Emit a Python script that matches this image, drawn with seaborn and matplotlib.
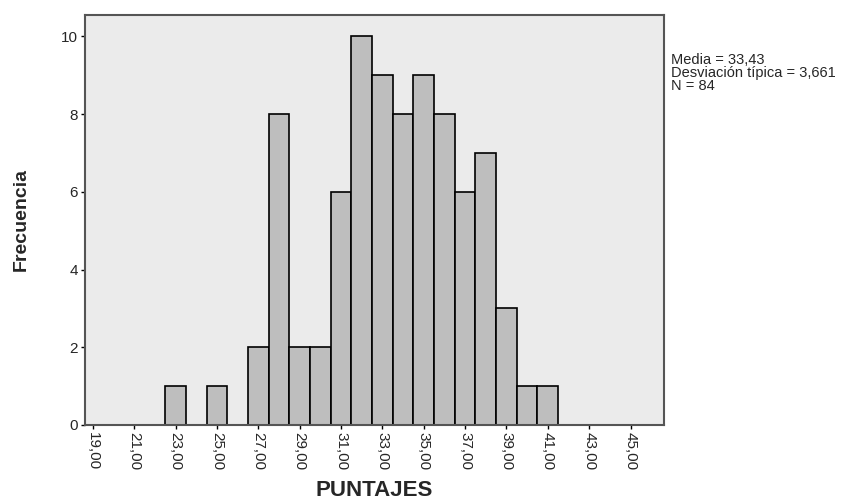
import pandas as pd
import seaborn as sns
import matplotlib.pyplot as plt

# Scores and their frequencies
puntajes = [23, 25, 27, 28, 29, 30, 31, 32, 33, 34, 35, 36, 37, 38, 39, 40, 41]
frecuencias = [1, 1, 2, 8, 2, 2, 6, 10, 9, 8, 9, 8, 6, 7, 3, 1, 1]
x_ticks = [19, 21, 23, 25, 27, 29, 31, 33, 35, 37, 39, 41, 43, 45]
y_ticks = [0, 2, 4, 6, 8, 10]
stats_text = "Media = 33,43\nDesviación típica = 3,661\nN = 84"

df = pd.DataFrame({'PUNTAJES': puntajes, 'freq': frecuencias})

sns.set_style('white')
plt.rcParams['font.family'] = ['Liberation Sans', 'DejaVu Sans']

fig = plt.figure(figsize=(8.63, 5.04), dpi=100)
ax = fig.add_axes([0.098, 0.157, 0.671, 0.813])
ax.set_facecolor('#ebebeb')

sns.histplot(data=df, x='PUNTAJES', weights='freq', discrete=True,
             color='#bebebe', edgecolor='black', linewidth=1.2, alpha=1, ax=ax)

ax.set_xlim(18.6, 46.6)
ax.set_ylim(0, 10.55)
ax.set_xticks(x_ticks)
ax.set_xticklabels([f"{t},00" for t in x_ticks], rotation=270, fontsize=11)
ax.set_yticks(y_ticks)
ax.set_yticklabels([str(t) for t in y_ticks], fontsize=11)
ax.tick_params(axis='both', bottom=True, left=True, direction='out',
               length=3, width=1, color='black', pad=2)

for s in ax.spines.values():
    s.set_color('#555555')
    s.set_linewidth(1.5)

ax.set_xlabel('PUNTAJES', fontsize=16, fontweight='bold', labelpad=7)
ax.set_ylabel('Frecuencia', fontsize=14, fontweight='bold', labelpad=22)

fig.text(0.777, 0.895, stats_text, fontsize=10.5, va='top', ha='left', linespacing=0.9)

fig.savefig('out.png', dpi=100)
